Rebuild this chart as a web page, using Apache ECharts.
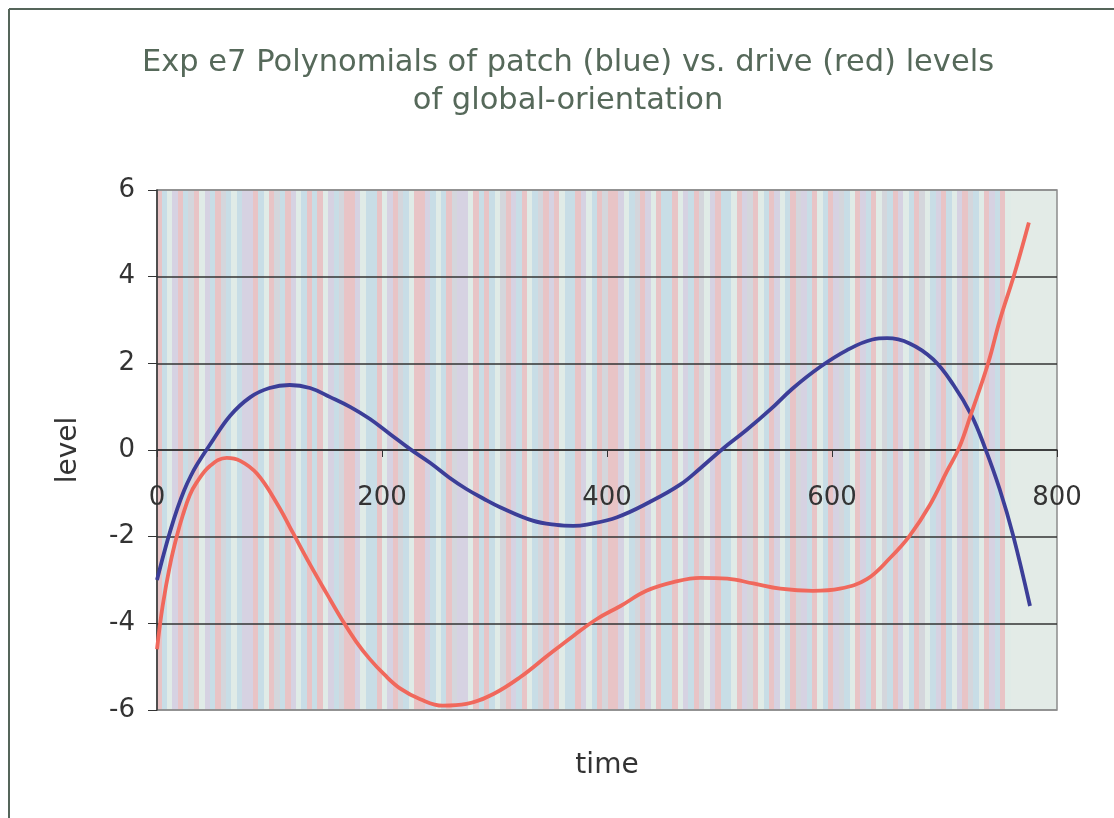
<!DOCTYPE html>
<html>
<head>
<meta charset="utf-8">
<script src="https://cdn.jsdelivr.net/npm/echarts@6/dist/echarts.min.js"></script>
<style>
html,body{margin:0;padding:0;background:#fff;}
#chart{width:1114px;height:818px;}
</style>
</head>
<body>
<div id="chart"></div>
<script>
// ---- data ----
const titleText = 'Exp e7 Polynomials of patch (blue) vs. drive (red) levels\nof global-orientation';
const xAxisName = 'time';
const yAxisName = 'level';
const xTicks = [0, 200, 400, 600, 800];
const yTicks = [-6, -4, -2, 0, 2, 4, 6];

const patchTime  = [0, 6, 12, 18, 24, 30, 36, 47, 65, 83, 100, 118, 136, 154, 172, 189, 207, 225, 243, 260, 275, 290, 305, 334, 355, 370, 382, 409, 438, 465, 483, 503, 524, 545, 565, 589, 613, 636, 649, 669, 690, 708, 724, 736, 749, 761, 776];
const patchLevel = [-3.0, -2.4, -1.85, -1.36, -0.94, -0.6, -0.32, 0.12, 0.79, 1.22, 1.43, 1.5, 1.43, 1.22, 0.99, 0.72, 0.37, 0.02, -0.3, -0.64, -0.9, -1.12, -1.32, -1.63, -1.73, -1.75, -1.72, -1.55, -1.2, -0.8, -0.42, 0.03, 0.46, 0.93, 1.42, 1.91, 2.3, 2.55, 2.58, 2.46, 2.09, 1.5, 0.8, 0.05, -0.9, -1.97, -3.6];

const driveTime  = [0, 5, 12, 18, 23, 29, 35, 47, 62, 74, 89, 107, 121, 136, 151, 165, 177, 189, 202, 216, 234, 254, 275, 299, 323, 347, 370, 391, 412, 435, 459, 483, 507, 530, 554, 583, 607, 631, 652, 669, 687, 702, 713, 724, 739, 749, 762, 775];
const driveLevel = [-4.6, -3.6, -2.6, -1.95, -1.5, -1.05, -0.76, -0.37, -0.18, -0.25, -0.55, -1.25, -1.92, -2.64, -3.32, -3.94, -4.42, -4.82, -5.18, -5.5, -5.75, -5.9, -5.86, -5.63, -5.24, -4.75, -4.29, -3.9, -3.6, -3.25, -3.05, -2.95, -2.97, -3.08, -3.2, -3.25, -3.2, -2.98, -2.48, -1.98, -1.27, -0.5, 0.05, 0.86, 2.02, 2.98, 4.05, 5.25];

// ---- decorative striped plot background (style only) ----
const stripePattern = 'pbwlpbgpwlbpgbwbllpbwpgbplwbpbpwlbgpplwbbpwlpgbwpplbwbpgllwpbpbwgplbpwbgplpwbbplwbpgpplwbgplwpbbpwlbpgwlpbbwplgpwbplwbpglbpwbplgbwplbpwgbplwbpgwblpbwlpgbwplbpw';
const stripeColors = {p:'#e8c4c6', b:'#c8dde6', w:'#e0ebe7', l:'#d6d2e2', g:'#d4d6dc'};
const stripeEnd = 0.948;
const stops = [];
const n = stripePattern.length;
for (let i = 0; i < n; i++) {
  const c = stripeColors[stripePattern[i]];
  stops.push({offset: i / n * stripeEnd, color: c});
  stops.push({offset: (i + 1) / n * stripeEnd, color: c});
}
stops.push({offset: stripeEnd, color: '#e3ebe7'});
stops.push({offset: 1, color: '#e3ebe7'});

const pair = (xs, ys) => xs.map((x, i) => [x, ys[i]]);

const chart = echarts.init(document.getElementById('chart'));
const font = "'DejaVu Sans', Verdana, sans-serif";
chart.setOption({
  backgroundColor: '#ffffff',
  animation: false,
  title: {
    text: titleText,
    left: 563, textAlign: 'center', top: 39,
    textStyle: {fontFamily: font, fontSize: 30.5, fontWeight: 'normal', color: '#56695a', lineHeight: 38}
  },
  graphic: [
    {type: 'line', shape: {x1: 9, y1: 9, x2: 1114, y2: 9}, style: {stroke: '#55655a', lineWidth: 2}},
    {type: 'line', shape: {x1: 9, y1: 9, x2: 9, y2: 818}, style: {stroke: '#55655a', lineWidth: 2}}
  ],
  grid: {
    left: 157, right: 57, top: 190, bottom: 108,
    outerBoundsMode: 'none', containLabel: false,
    show: true, borderColor: '#8c8c8c', borderWidth: 1.5,
    backgroundColor: {type: 'linear', x: 0, y: 0, x2: 1, y2: 0, colorStops: stops}
  },
  xAxis: {
    type: 'value', min: xTicks[0], max: xTicks[xTicks.length - 1], interval: 200,
    name: xAxisName, nameLocation: 'middle', nameGap: 302,
    nameTextStyle: {fontFamily: font, fontSize: 28, color: '#333'},
    offset: -260,
    axisLine: {onZero: false, lineStyle: {color: '#333', width: 1.5}},
    axisTick: {show: true, inside: false, length: 7, lineStyle: {color: '#333'}},
    axisLabel: {fontFamily: font, fontSize: 26, color: '#333', margin: 35},
    splitLine: {show: false}
  },
  yAxis: {
    type: 'value', min: yTicks[0], max: yTicks[yTicks.length - 1], interval: 2,
    name: yAxisName, nameLocation: 'middle', nameGap: 74,
    nameTextStyle: {fontFamily: font, fontSize: 28, color: '#333'},
    axisLine: {show: true, lineStyle: {color: '#333', width: 1.5}},
    axisTick: {show: true, length: 9, lineStyle: {color: '#333'}},
    axisLabel: {fontFamily: font, fontSize: 26, color: '#333', margin: 22},
    splitLine: {show: true, lineStyle: {color: ['#8c8c8c', '#333', '#333', '#333', '#333', '#333', '#8c8c8c'], width: 1.5}}
  },
  series: [
    {
      name: 'patch', type: 'line', data: pair(patchTime, patchLevel),
      smooth: 0.4, showSymbol: false, symbol: 'none',
      lineStyle: {color: '#3c3e98', width: 3.8}
    },
    {
      name: 'drive', type: 'line', data: pair(driveTime, driveLevel),
      smooth: 0.4, showSymbol: false, symbol: 'none',
      lineStyle: {color: '#f0685c', width: 3.8}
    }
  ]
});
</script>
</body>
</html>
